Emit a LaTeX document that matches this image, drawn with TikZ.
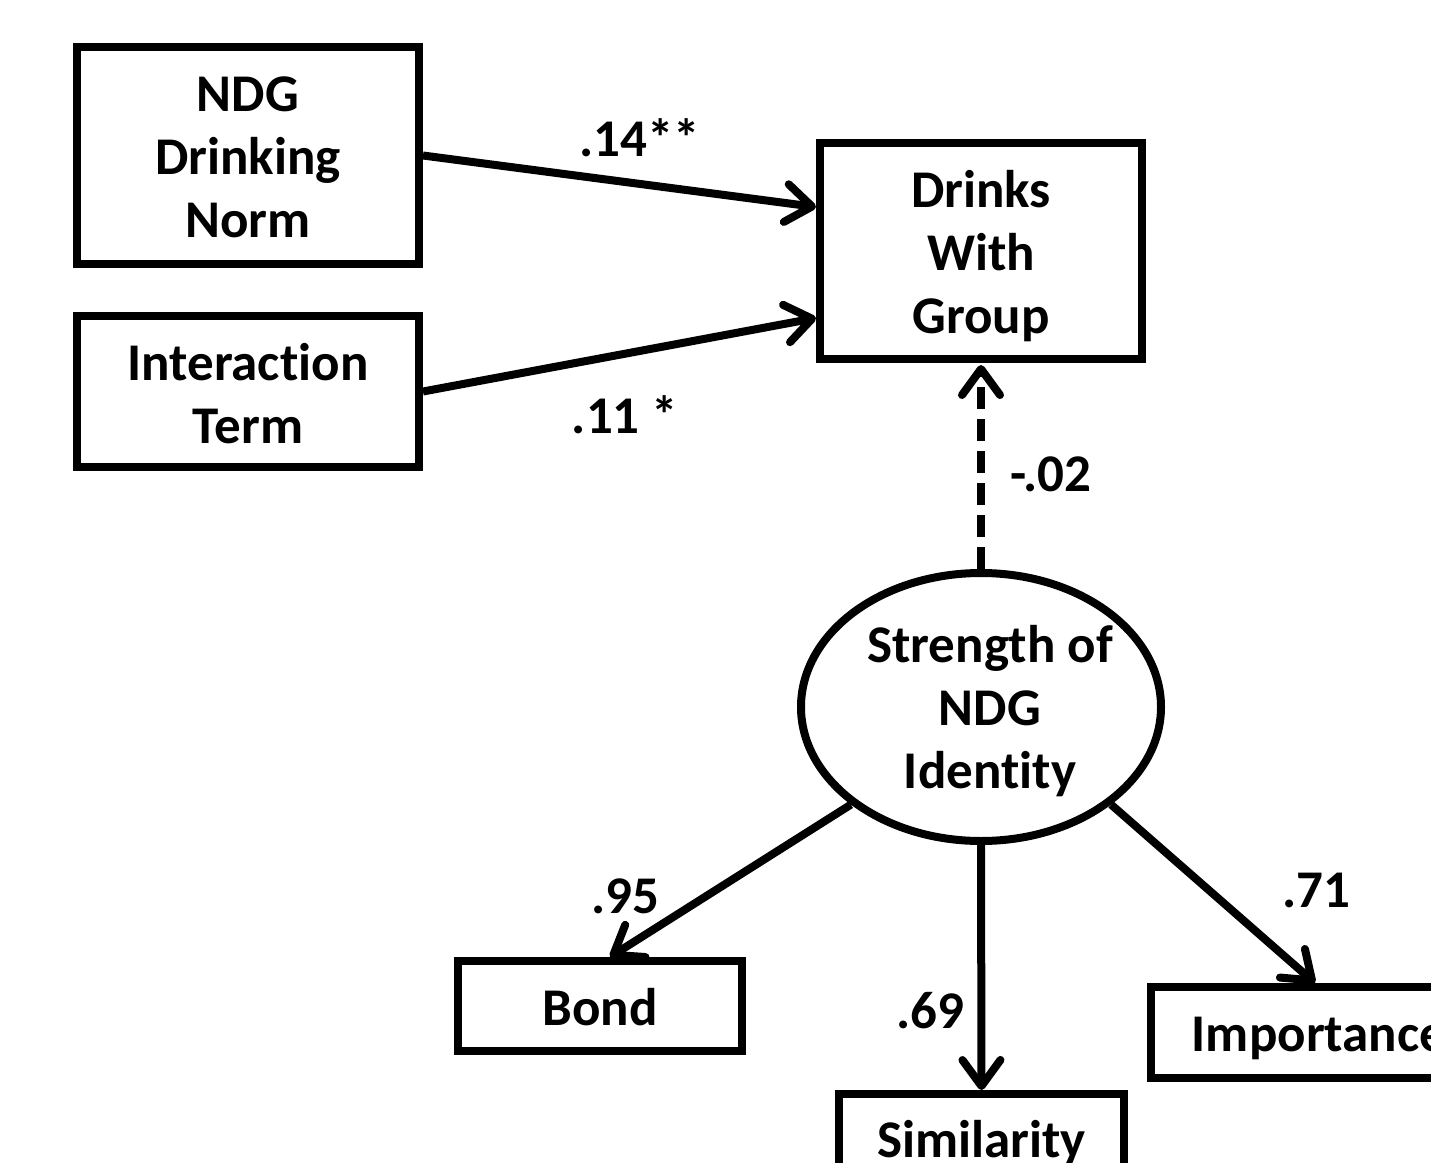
\documentclass[tikz,border=0pt]{standalone}
\usepackage{fontspec}
\setmainfont{Carlito}[Ligatures=NoCommon]
\usetikzlibrary{arrows.meta,shapes.geometric,calc}
\begin{document}
\begin{tikzpicture}[x=0.5pt,y=-0.5pt,
  every node/.style={font=\fontsize{26.5}{31.5}\selectfont\bfseries, align=center, inner sep=0pt},
  every label/.style={font=\fontsize{26.5}{31.5}\selectfont\bfseries, align=center, inner sep=0pt},
  box/.style={draw, line width=4pt, rectangle},
  lat/.style={draw, line width=4pt, ellipse},
  path/.style={line width=4pt, -{Straight Barb[length=13pt,width=19pt,line cap=round,line join=round]}},
  coef/.style={}
]
\useasboundingbox (0,0) rectangle (1431,1163);
\clip (0,0) rectangle (1431,1163);
\fill[white] (0,0) rectangle (1431,1163);

\node[box, minimum width=171pt, minimum height=108.5pt,
  label={[yshift=-1pt]center:NDG\\Drinking\\Norm}] (ndg) at (248,155.5) {};
\node[box, minimum width=171pt, minimum height=75.5pt,
  label={[yshift=-1pt]center:Interaction\\Term}] (int) at (248,391.5) {};
\node[box, minimum width=161pt, minimum height=108pt,
  label={[yshift=-2.5pt]center:Drinks\\With\\Group}] (drinks) at (981,251) {};
\node[lat, minimum width=180pt, minimum height=134pt,
  label={[xshift=4.5pt,yshift=-2pt]center:Strength of\\NDG\\Identity}] (ell) at (981,707) {};
\node[box, minimum width=142pt, minimum height=45pt,
  label={[yshift=-0.5pt]center:Bond}] (bond) at (600,1006) {};
\node[box, minimum width=142.5pt, minimum height=45pt,
  label={[yshift=-2pt]center:Similarity}] (sim) at (981.5,1139) {};
\node[box, minimum width=168pt, minimum height=45.5pt,
  label={[yshift=-3pt]center:Importance}] (imp) at (1319,1032.5) {};

\draw[path] (ndg.east) -- ([yshift=22pt]drinks.west);
\draw[path] (int.east) -- ([yshift=-33.5pt]drinks.west);
\draw[path, dashed, dash pattern=on 11pt off 5pt] (ell.north) -- ([yshift=-1pt]drinks.south);
\draw[path] (ell.south west) -- ([xshift=5pt]bond.north);
\draw[path] (ell.south) -- (sim.north);
\draw[path] (ell.south east) -- ([xshift=-2pt]imp.north);

\node[coef] (c1) at (640,138) {.14**};
\node[coef] (c2) at (625,415) {.11 *};
\node[coef] (c3) at (1051,474) {-.02};
\node[coef] (c4) at (625,896) {.95};
\node[coef] (c5) at (930,1011) {.69};
\node[coef] (c6) at (1316,890) {.71};
\end{tikzpicture}
\end{document}
